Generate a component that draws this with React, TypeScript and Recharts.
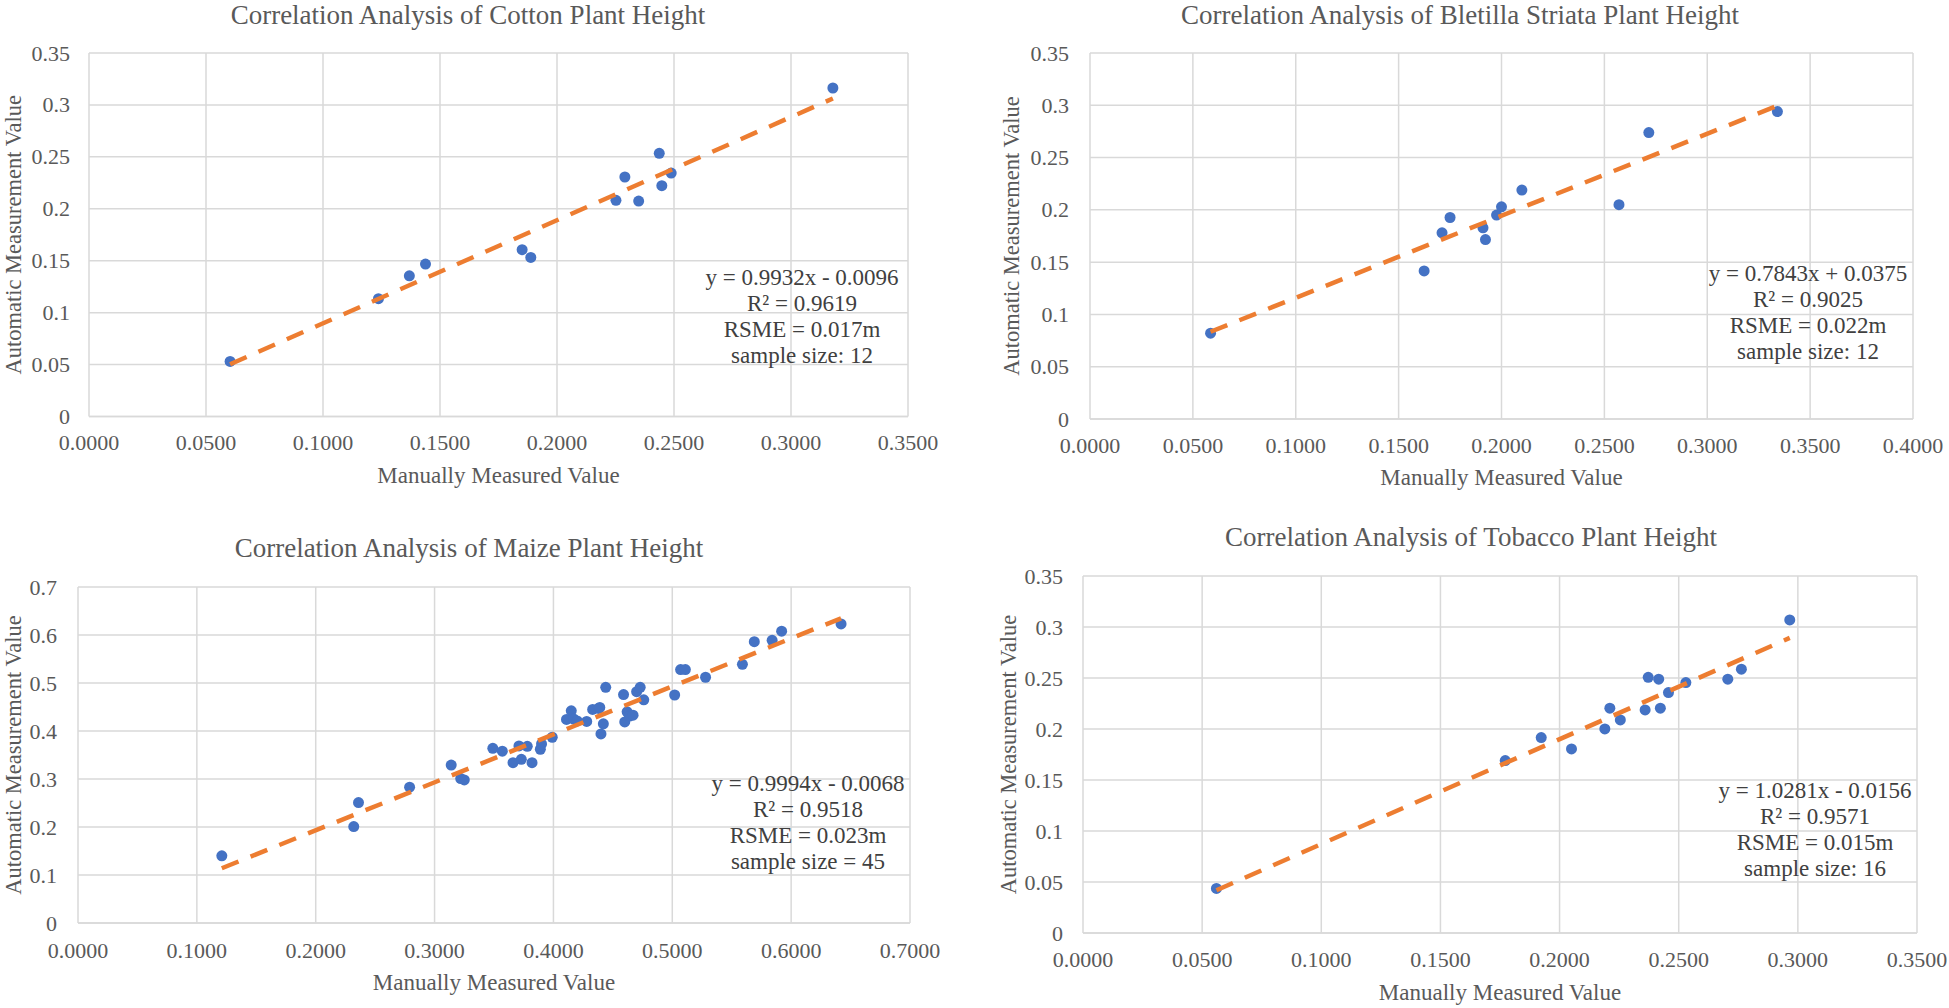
import React from 'react';
import { ScatterChart, Scatter, XAxis, YAxis, CartesianGrid } from 'recharts';

// ---------- DATA ----------
const titles = [
  'Correlation Analysis of Cotton Plant Height',
  'Correlation Analysis of Bletilla Striata Plant Height',
  'Correlation Analysis of Maize Plant Height',
  'Correlation Analysis of Tobacco Plant Height',
];
const xAxisTitle = 'Manually Measured Value';
const yAxisTitle = 'Automatic Measurement Value';

const cottonX = [0.0603, 0.1237, 0.1369, 0.1438, 0.1851, 0.1888, 0.2252, 0.229, 0.2349, 0.2437, 0.2448, 0.2488, 0.3179];
const cottonY = [0.053, 0.1134, 0.1355, 0.1468, 0.1606, 0.1532, 0.2081, 0.2306, 0.2074, 0.2534, 0.2222, 0.2344, 0.3163];

const bletillaX = [0.0586, 0.1624, 0.1711, 0.175, 0.191, 0.1922, 0.1976, 0.2, 0.2099, 0.2571, 0.2716, 0.3341];
const bletillaY = [0.0821, 0.1416, 0.178, 0.1927, 0.1828, 0.1716, 0.195, 0.2029, 0.2189, 0.2049, 0.2739, 0.294];

const maizeX = [0.121, 0.232, 0.236, 0.279, 0.314, 0.322, 0.325, 0.349, 0.357, 0.366, 0.371, 0.373, 0.378, 0.382, 0.389, 0.39, 0.399, 0.411, 0.415, 0.417, 0.42, 0.428, 0.433, 0.438, 0.439, 0.44, 0.442, 0.444, 0.459, 0.46, 0.462, 0.464, 0.467, 0.47, 0.473, 0.476, 0.502, 0.507, 0.511, 0.528, 0.559, 0.569, 0.584, 0.592, 0.642];
const maizeY = [0.14, 0.201, 0.251, 0.283, 0.329, 0.301, 0.298, 0.364, 0.358, 0.334, 0.369, 0.341, 0.368, 0.334, 0.362, 0.373, 0.387, 0.424, 0.442, 0.425, 0.421, 0.42, 0.445, 0.447, 0.449, 0.394, 0.415, 0.491, 0.476, 0.419, 0.44, 0.431, 0.433, 0.482, 0.491, 0.465, 0.475, 0.528, 0.528, 0.512, 0.539, 0.586, 0.589, 0.608, 0.623];

const tobaccoX = [0.056, 0.1772, 0.1923, 0.205, 0.219, 0.2211, 0.2255, 0.2359, 0.2372, 0.2416, 0.2423, 0.2457, 0.253, 0.2706, 0.2763, 0.2966];
const tobaccoY = [0.0437, 0.1691, 0.1916, 0.1805, 0.2001, 0.2204, 0.2089, 0.2187, 0.2507, 0.2488, 0.2204, 0.2357, 0.2455, 0.2488, 0.2586, 0.3069];

const slopes = [0.9932, 0.7843, 0.9994, 1.0281];
const intercepts = [-0.0096, 0.0375, -0.0068, -0.0156];

const notes = [
  ['y = 0.9932x - 0.0096', 'R² = 0.9619', 'RSME = 0.017m', 'sample size: 12'],
  ['y = 0.7843x + 0.0375', 'R² = 0.9025', 'RSME = 0.022m', 'sample size: 12'],
  ['y = 0.9994x - 0.0068', 'R² = 0.9518', 'RSME = 0.023m', 'sample size = 45'],
  ['y = 1.0281x - 0.0156', 'R² = 0.9571', 'RSME = 0.015m', 'sample size: 16'],
];

const ticks035 = [0, 0.05, 0.1, 0.15, 0.2, 0.25, 0.3, 0.35];
const ticks040 = [0, 0.05, 0.1, 0.15, 0.2, 0.25, 0.3, 0.35, 0.4];
const ticks070 = [0, 0.1, 0.2, 0.3, 0.4, 0.5, 0.6, 0.7];

// ---------- LAYOUT ----------
const layouts = [
  { left: 0, top: 0, width: 980, height: 500, L: 89, R: 908, T: 53, B: 416.5, titleX: 468, titleY: 15, yTitleX: 13, xTitleY: 475, noteX: 802, noteY: 277, yGap: 19, xGap: 26 },
  { left: 980, top: 0, width: 969, height: 500, L: 1090, R: 1913, T: 53, B: 419, titleX: 1460, titleY: 15, yTitleX: 1011, xTitleY: 477, noteX: 1808, noteY: 273, yGap: 21, xGap: 26 },
  { left: 0, top: 500, width: 980, height: 508, L: 78, R: 910, T: 587, B: 923, titleX: 469, titleY: 548, yTitleX: 13, xTitleY: 982, noteX: 808, noteY: 783, yGap: 21, xGap: 27 },
  { left: 980, top: 500, width: 969, height: 508, L: 1083, R: 1917, T: 576, B: 933, titleX: 1471, titleY: 537, yTitleX: 1008, xTitleY: 992, noteX: 1815, noteY: 790, yGap: 20, xGap: 26 },
];

const FONT = "'Liberation Serif', 'Times New Roman', serif";
const TEXT = '#595959';
const GRID = '#d9d9d9';
const BLUE = '#4472C4';
const ORANGE = '#ED7D31';

const fmtX = (v: number) => v.toFixed(4);
const fmtY = (v: number) => String(Number(v.toFixed(2)));

type PanelDef = {
  xs: number[];
  ys: number[];
  xTicks: number[];
  yTicks: number[];
  slope: number;
  intercept: number;
};

const panelDefs: PanelDef[] = [
  { xs: cottonX, ys: cottonY, xTicks: ticks035, yTicks: ticks035, slope: slopes[0], intercept: intercepts[0] },
  { xs: bletillaX, ys: bletillaY, xTicks: ticks040, yTicks: ticks035, slope: slopes[1], intercept: intercepts[1] },
  { xs: maizeX, ys: maizeY, xTicks: ticks070, yTicks: ticks070, slope: slopes[2], intercept: intercepts[2] },
  { xs: tobaccoX, ys: tobaccoY, xTicks: ticks035, yTicks: ticks035, slope: slopes[3], intercept: intercepts[3] },
];

function Panel({ def, lay }: { def: PanelDef; lay: typeof layouts[0] }) {
  const points = def.xs.map((x, i) => ({ x, y: def.ys[i] }));
  const x0 = Math.min(...def.xs);
  const x1 = Math.max(...def.xs);
  const trend = [
    { x: x0, y: def.slope * x0 + def.intercept },
    { x: x1, y: def.slope * x1 + def.intercept },
  ];
  const xMax = def.xTicks[def.xTicks.length - 1];
  const yMax = def.yTicks[def.yTicks.length - 1];
  return (
    <div style={{ position: 'absolute', left: lay.left, top: lay.top }}>
      <ScatterChart
        width={lay.width}
        height={lay.height}
        margin={{ top: lay.T - lay.top, right: lay.left + lay.width - lay.R, bottom: 0, left: 0 }}
      >
        <CartesianGrid stroke={GRID} strokeWidth={1.5} />
        <XAxis
          type="number"
          dataKey="x"
          domain={[0, xMax]}
          ticks={def.xTicks}
          allowDataOverflow
          height={lay.top + lay.height - lay.B}
          axisLine={{ stroke: GRID, strokeWidth: 1.5 }}
          tickLine={false}
          tickSize={0}
          tickMargin={lay.xGap}
          interval={0}
          tick={(p: any) => (
            <text x={p.x} y={p.y} textAnchor="middle" dominantBaseline="central" fill={TEXT} fontSize={22} fontFamily={FONT}>
              {fmtX(p.payload.value)}
            </text>
          )}
        />
        <YAxis
          type="number"
          dataKey="y"
          domain={[0, yMax]}
          ticks={def.yTicks}
          allowDataOverflow
          width={lay.L - lay.left}
          axisLine={false}
          tickLine={false}
          tickSize={0}
          tickMargin={lay.yGap}
          interval={0}
          tick={(p: any) => (
            <text x={p.x} y={p.y} textAnchor="end" dominantBaseline="central" fill={TEXT} fontSize={22} fontFamily={FONT}>
              {fmtY(p.payload.value)}
            </text>
          )}
        />
        <Scatter
          data={points}
          fill={BLUE}
          isAnimationActive={false}
          shape={(p: any) => <circle cx={p.cx} cy={p.cy} r={5.5} fill={BLUE} />}
        />
        <Scatter
          data={trend}
          fill={ORANGE}
          isAnimationActive={false}
          line={{ stroke: ORANGE, strokeWidth: 4.5, strokeDasharray: '18 13' }}
          lineType="joint"
          shape={() => <g />}
        />
      </ScatterChart>
    </div>
  );
}

export default function App() {
  return (
    <div style={{ position: 'absolute', left: 0, top: 0, width: 1949, height: 1008, background: '#fff', overflow: 'hidden' }}>
      {panelDefs.map((def, i) => (
        <Panel key={i} def={def} lay={layouts[i]} />
      ))}
      <svg width={1949} height={1008} style={{ position: 'absolute', left: 0, top: 0, pointerEvents: 'none' }}>
        {layouts.map((lay, i) => {
          const cx = (lay.L + lay.R) / 2;
          const cy = (lay.T + lay.B) / 2;
          return (
            <g key={i} fontFamily={FONT}>
              <text x={lay.titleX} y={lay.titleY} textAnchor="middle" dominantBaseline="central" fontSize={27} fill={TEXT}>
                {titles[i]}
              </text>
              <text x={cx} y={lay.xTitleY} textAnchor="middle" dominantBaseline="central" fontSize={23} fill={TEXT}>
                {xAxisTitle}
              </text>
              <text
                transform={`translate(${lay.yTitleX},${cy}) rotate(-90)`}
                textAnchor="middle"
                dominantBaseline="central"
                fontSize={22.5}
                fill={TEXT}
              >
                {yAxisTitle}
              </text>
              {notes[i].map((line, j) => (
                <text key={j} x={lay.noteX} y={lay.noteY + j * 26} textAnchor="middle" dominantBaseline="central" fontSize={23} fill="#404040">
                  {line}
                </text>
              ))}
            </g>
          );
        })}
      </svg>
    </div>
  );
}
